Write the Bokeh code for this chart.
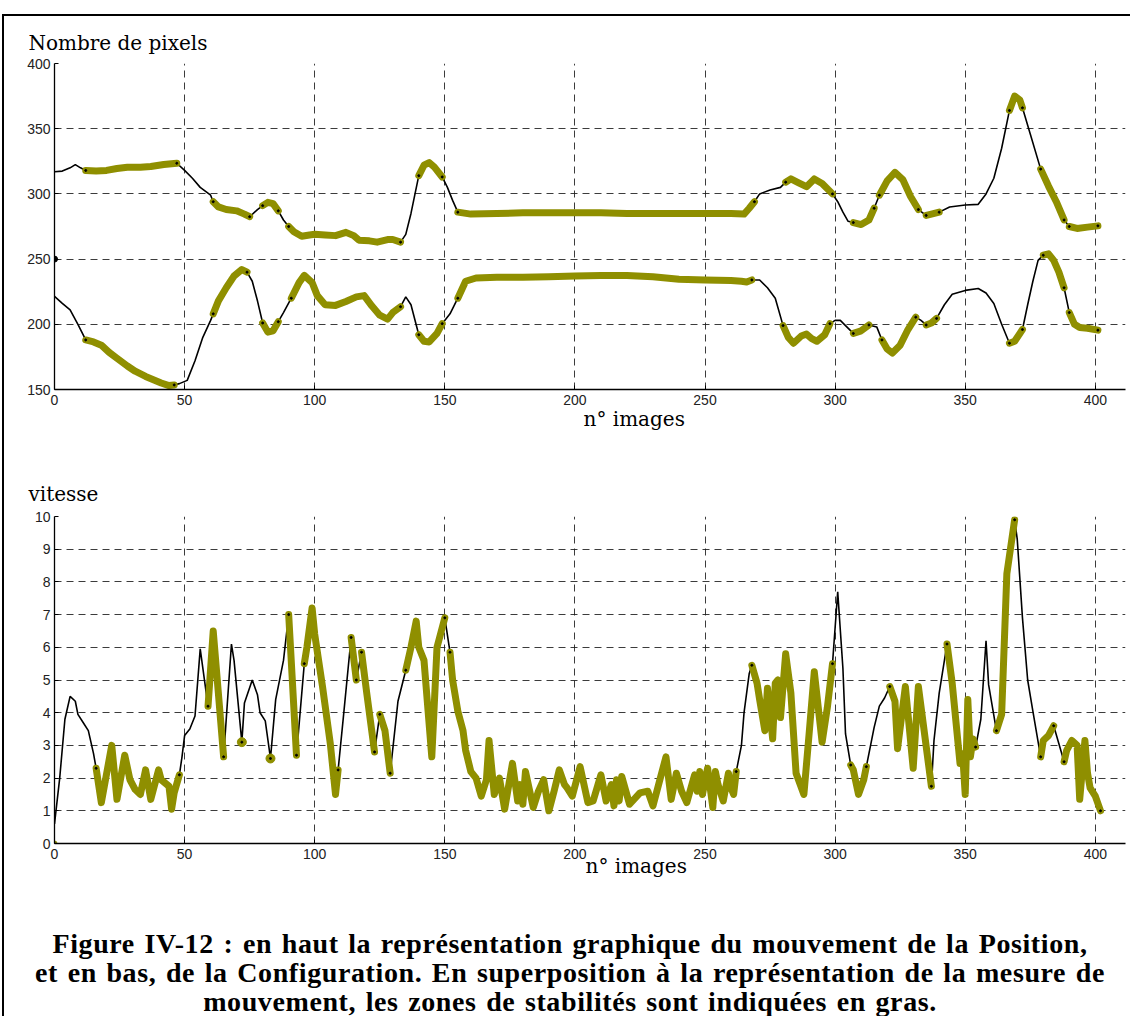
from bokeh.plotting import figure
from bokeh.models import Range1d, FixedTicker, Title, Div
from bokeh.layouts import column
from bokeh.embed import file_html
from bokeh.resources import INLINE

# ---------------- data ----------------
x_ticks = [0, 50, 100, 150, 200, 250, 300, 350, 400]
y_ticks_pos = [150, 200, 250, 300, 350, 400]
y_ticks_vit = [0, 1, 2, 3, 4, 5, 6, 7, 8, 9, 10]

# Position: upper curve (n° image, nombre de pixels)
img_up = [0, 3, 6, 8, 10, 12, 16, 20, 24, 28, 33, 37, 42, 47, 50, 53, 56, 60, 61, 63, 66, 70, 73, 75,
          78, 80, 82, 84, 86, 88, 90, 92, 95, 98, 100, 104, 108, 112, 115, 117, 121, 124, 128, 130,
          133, 135, 137, 140, 142, 144, 146, 149, 151, 153, 155, 160, 170, 180, 190, 200, 210, 220,
          230, 240, 250, 260, 265, 267, 269, 271, 275, 279, 281, 283, 286, 289, 292, 295, 299, 301,
          303, 305, 307, 310, 313, 315, 317, 320, 323, 326, 329, 332, 335, 337, 340, 344, 350, 355,
          358, 361, 364, 367, 369, 371, 372, 375, 379, 382, 385, 388, 390, 393, 397, 401]
pix_up = [317, 317.5, 320, 322.5, 320, 318, 317.5, 318, 319.5, 320.5, 320.5, 321, 322.5, 323.5, 318,
          312, 305, 299, 294, 290, 288, 287, 284.5, 282.5, 288, 291, 293.5, 292.5, 287, 280, 275,
          271, 267.5, 268.5, 269, 268.5, 268, 270.5, 268, 264.5, 264, 263, 265, 265, 263, 269, 285,
          314, 322, 324, 320.5, 313, 305, 295, 286, 284.5, 285, 285.5, 285.5, 285.5, 285.5, 285,
          285, 285, 285, 285, 284.5, 289, 294, 300, 303, 305, 309, 311.5, 308.5, 305.5, 311.5, 308,
          300, 294, 286, 279, 278, 276.5, 280, 289, 299, 310, 316.5, 311, 298, 288, 283.5, 284.5,
          286, 290, 291.5, 292, 300, 312, 335, 364, 375, 372, 366, 346, 319, 306, 294, 280, 275,
          273.5, 274.5, 275.5]

# Position: lower curve
img_low = [0, 3, 6, 9, 12, 15, 18, 21, 24, 28, 31, 35, 38, 41, 44, 46, 48, 51, 54, 57, 60, 61, 63,
           66, 69, 72, 74, 76, 78, 80, 82, 84, 86, 88, 91, 94, 96, 99, 101, 104, 108, 112, 116, 119,
           122, 125, 128, 130, 133, 135, 137, 140, 142, 144, 147, 149, 152, 155, 158, 162, 170, 180,
           190, 200, 210, 220, 230, 240, 250, 260, 264, 266, 268, 271, 274, 277, 280, 282, 284, 287,
           289, 291, 293, 296, 298, 300, 302, 304, 307, 310, 313, 316, 318, 320, 322, 325, 328, 331,
           333, 335, 337, 339, 342, 345, 350, 355, 358, 361, 364, 367, 369, 372, 374, 376, 378, 380,
           382, 384, 386, 388, 390, 392, 394, 397, 401]
pix_low = [221.5, 216, 211, 200, 188, 186.5, 184, 178.5, 174, 168, 164, 160, 157.5, 155, 153, 153.5,
           154.5, 157, 172, 190, 203, 208, 218, 228, 237, 242, 240, 233, 218, 201, 194, 195, 202,
           209, 220, 232, 237.5, 232, 222, 215, 214.5, 217.5, 221, 222, 214, 207, 204, 209, 213.5,
           221, 215, 192, 187, 186.5, 193, 200.5, 208, 220, 233, 235.5, 236, 236, 236.5, 237,
           237.5, 237.5, 236.5, 234.5, 234, 233.5, 233, 232.5, 234, 234, 228, 220, 199, 190, 185.5,
           191, 192.5, 189, 187, 192, 200.5, 203, 203, 199, 193, 195, 199.5, 198, 188, 181, 178,
           184, 196, 205.5, 203, 199.5, 201, 204.5, 215, 223, 226, 227.5, 224, 216, 200, 185.5,
           187, 196, 215, 233, 249, 253, 254, 249, 240, 228, 209, 200, 197.5, 197, 195.5]

# Position: stability zones (first / last image)
stable_pos = [(12, 47), (61, 75), (80, 86), (90, 133), (140, 149), (155, 269), (280, 299),
              (307, 315), (317, 332), (335, 340), (367, 372), (379, 388), (390, 401)]

# Configuration: vitesse
img_vit = [0, 2, 4, 6, 8, 9, 11, 13, 15, 16, 18, 22, 24, 27, 29, 31, 33, 35, 37, 40, 41, 44, 45, 46,
           48, 49, 50, 52, 54, 56, 59, 61, 65, 68, 69, 72, 73, 76, 78, 79, 81, 83, 85, 88, 90, 93,
           96, 97, 99, 100, 103, 106, 108, 109, 111, 114, 116, 118, 120, 123, 125, 127, 129, 132,
           135, 137, 139, 140, 142, 145, 147, 150, 152, 153, 155, 157, 158, 160, 162, 164, 166, 167,
           169, 171, 173, 176, 178, 179, 180, 181, 184, 186, 188, 190, 192, 194, 196, 197, 199, 202,
           205, 207, 210, 212, 214, 215, 216, 217, 218, 221, 225, 228, 230, 233, 235, 237, 239, 241,
           243, 246, 247, 248, 249, 251, 253, 254, 255, 257, 259, 260, 261, 262, 264, 265, 267, 268,
           270, 271, 273, 274, 276, 277, 278, 279, 281, 283, 285, 288, 290, 292, 295, 297, 299, 301,
           303, 304, 306, 307, 309, 311, 312, 315, 317, 319, 321, 323, 324, 327, 330, 332, 337, 338,
           340, 343, 345, 348, 349, 350, 351, 352, 353, 354, 356, 358, 359, 362, 364, 366, 369, 370,
           372, 374, 376, 379, 380, 382, 384, 386, 388, 389, 391, 393, 394, 396, 397, 398, 400, 402]
vitesse = [0.6, 2.0, 3.8, 4.5, 4.35, 3.95, 3.7, 3.45, 2.75, 2.3, 1.25, 3.0, 1.35, 2.7, 1.95, 1.65, 1.5,
           2.25, 1.35, 2.25, 1.95, 1.75, 1.05, 1.55, 2.1, 2.65, 3.3, 3.5, 3.9, 5.95, 4.2, 6.5, 2.65,
           6.1, 5.6, 3.1, 4.3, 5.0, 4.55, 4.0, 3.75, 2.6, 4.4, 5.6, 7.0, 2.7, 5.5, 6.0, 7.2, 6.4, 4.8,
           3.05, 1.5, 2.25, 3.85, 6.3, 5.0, 5.85, 4.6, 2.8, 3.95, 3.45, 2.15, 4.35, 5.3, 6.0, 6.8,
           6.0, 5.6, 2.65, 6.0, 6.9, 5.85, 5.0, 4.05, 3.45, 2.85, 2.2, 2.0, 1.45, 1.95, 3.15, 1.5,
           2.0, 1.05, 2.45, 1.3, 1.8, 1.2, 2.2, 1.1, 1.6, 1.95, 1.0, 1.6, 2.25, 1.8, 1.7, 1.45, 2.35,
           1.25, 1.3, 2.1, 1.3, 1.8, 1.15, 1.95, 1.3, 2.05, 1.2, 1.55, 1.6, 1.15, 2.05, 2.65, 1.35,
           2.15, 1.6, 1.25, 2.1, 1.6, 2.2, 1.5, 2.3, 1.1, 2.2, 1.8, 1.3, 2.15, 1.7, 1.5, 2.2, 3.0,
           4.0, 5.2, 5.45, 4.9, 4.4, 3.45, 4.75, 3.2, 4.9, 5.0, 3.85, 5.8, 4.6, 2.15, 1.5, 3.35,
           5.25, 3.1, 4.15, 5.5, 7.7, 5.35, 3.35, 2.4, 2.25, 1.5, 1.95, 2.35, 3.55, 4.2, 4.45, 4.8,
           4.35, 2.9, 4.8, 2.3, 4.8, 1.75, 3.15, 4.6, 6.1, 4.9, 2.45, 2.75, 1.5, 4.4, 2.65, 3.2, 2.95,
           3.8, 6.2, 4.85, 3.45, 3.95, 8.25, 9.9, 9.3, 6.9, 5.0, 4.05, 2.65, 3.15, 3.3, 3.6, 3.05,
           2.5, 2.85, 3.15, 3.0, 1.35, 3.15, 2.15, 1.7, 1.45, 1.0]

# Configuration: stability zones
stable_conf = [(16, 48), (59, 65), (72, 72), (83, 83), (90, 93), (96, 109), (114, 116), (118, 123),
               (125, 129), (135, 150), (152, 262), (268, 299), (306, 312), (321, 337), (343, 354),
               (362, 369), (379, 384), (388, 402)]

OLIVE = "#8f8f00"
GRID = "#1a1a1a"
X_END = 411.6
FIG_W = 1122


def split_zones(xs, ys, zones):
    lx, ly, dx, dy, ex, ey = [], [], [], [], [], []
    for a, b in zones:
        px = [x for x in xs if a <= x <= b]
        py = [y for x, y in zip(xs, ys) if a <= x <= b]
        if len(px) > 1:
            lx.append(px)
            ly.append(py)
            ex += [px[0], px[-1]]
            ey += [py[0], py[-1]]
        elif len(px) == 1:
            dx += px
            dy += py
    return lx, ly, dx, dy, ex, ey


def make_fig(height, b_top, b_bottom, yr, yticks):
    p = figure(width=FIG_W, height=height, x_range=Range1d(0, X_END), y_range=Range1d(*yr),
               output_backend="svg", toolbar_location=None,
               min_border_left=50, min_border_right=1, min_border_top=b_top,
               min_border_bottom=b_bottom)
    p.outline_line_color = None
    p.background_fill_color = "white"
    p.border_fill_color = "white"
    p.xaxis.ticker = FixedTicker(ticks=x_ticks)
    p.yaxis.ticker = FixedTicker(ticks=yticks)
    for ax in (p.xaxis[0], p.yaxis[0]):
        ax.axis_line_color = "black"
        ax.axis_line_width = 1.3
        ax.major_tick_in = 4
        ax.major_tick_out = 0
        ax.major_tick_line_color = "black"
        ax.minor_tick_line_color = None
        ax.major_label_text_font = "Liberation Sans"
        ax.major_label_text_font_size = "14px"
        ax.major_label_text_color = "#222222"
    p.xaxis.major_label_standoff = 5
    p.yaxis.major_label_standoff = 4
    p.grid.grid_line_color = GRID
    p.grid.grid_line_dash = "7 5"
    p.grid.grid_line_width = 1
    p.grid.grid_line_alpha = 0.85
    return p


def add_curve(p, xs, ys, zones):
    p.line(xs, ys, line_color="black", line_width=1.6)
    lx, ly, dx, dy, ex, ey = split_zones(xs, ys, zones)
    p.multi_line(lx, ly, line_color=OLIVE, line_width=7, line_cap="round", line_join="round")
    if dx:
        p.scatter(dx, dy, size=9, color=OLIVE)
    p.scatter(ex + dx, ey + dy, size=2, color="black")


def add_title(p, txt, place, offset, standoff):
    p.add_layout(Title(text=txt, align="left", offset=offset, standoff=standoff,
                       text_font="DejaVu Serif", text_font_size="20px",
                       text_font_style="normal", text_color="black"), place)


# ---------------- top: Position ----------------
p1 = make_fig(436, 47, 63, (150, 400), y_ticks_pos)
add_curve(p1, img_up, pix_up, stable_pos)
add_curve(p1, img_low, pix_low, stable_pos)
p1.scatter([0], [250], size=6, color="black")
add_title(p1, "Nombre de pixels", "above", -26, 18)
add_title(p1, "n° images", "below", 529, -5)

# ---------------- bottom: Configuration ----------------
p2 = make_fig(430, 64, 39, (0, 10), y_ticks_vit)
add_curve(p2, img_vit, vitesse, stable_conf)
p2.scatter([0], [0], size=5, color=OLIVE)
add_title(p2, "vitesse", "above", -26, 22)
add_title(p2, "n° images", "below", 531, -20)

# ---------------- caption ----------------
caption = Div(
    text=('<div style="font-family:\'Liberation Serif\';font-weight:bold;font-size:28px;'
          'letter-spacing:0.6px;word-spacing:2px;'
          'line-height:29px;text-align:center;padding-top:42px;padding-left:10px;'
          'color:black;width:1112px;">'
          'Figure IV-12 : en haut la représentation graphique du mouvement de la Position,<br>'
          'et en bas, de la Configuration. En superposition à la représentation de la mesure de<br>'
          'mouvement, les zones de stabilités sont indiquées en gras.</div>'),
    width=FIG_W, height=134)

layout = column(p1, p2, caption,
                styles={"border": "2px solid black", "margin-left": "2px", "margin-top": "14px"})

open("out.html", "w").write(file_html(layout, INLINE))
